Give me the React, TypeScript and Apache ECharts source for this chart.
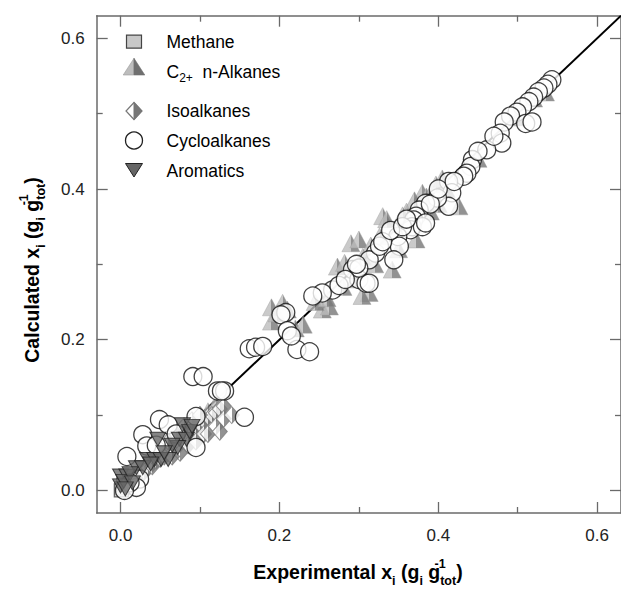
import React, { useEffect, useRef } from "react";
import * as echarts from "echarts";

const majorTicks = [0, 0.2, 0.4, 0.6];
const minorTicks = [0.1, 0.3, 0.5];
const axisMin = -0.03;
const axisMax = 0.63;

const identityLine: [number, number][] = [[0, 0], [0.63, 0.63]];

const methane: [number, number][] = [[0.002, 0.003], [0.004, 0.008], [0.001, 0.0]];

const nAlkanes: [number, number][] = [
  [0.19, 0.243], [0.204, 0.249], [0.19, 0.224], [0.197, 0.235], [0.21, 0.24], [0.22, 0.215], [0.23, 0.22],
  [0.254, 0.24], [0.263, 0.244], [0.245, 0.25], [0.273, 0.297], [0.282, 0.302], [0.29, 0.328], [0.3, 0.333],
  [0.305, 0.31], [0.313, 0.262], [0.304, 0.258], [0.326, 0.337], [0.33, 0.364], [0.335, 0.36], [0.342, 0.293],
  [0.35, 0.32], [0.372, 0.333], [0.38, 0.395], [0.385, 0.39], [0.397, 0.406], [0.405, 0.414], [0.426, 0.377],
  [0.36, 0.37], [0.37, 0.385], [0.355, 0.365], [0.32, 0.3], [0.28, 0.27], [0.26, 0.255], [0.295, 0.28],
  [0.315, 0.325], [0.1, 0.1], [0.11, 0.105], [0.09, 0.085], [0.12, 0.115], [0.08, 0.075], [0.52, 0.52],
  [0.535, 0.528], [0.5, 0.495], [0.45, 0.44], [0.41, 0.4], [0.39, 0.37], [0.4, 0.38],
];

const isoAlkanes: [number, number][] = [
  [0.02, 0.018], [0.03, 0.025], [0.035, 0.03], [0.04, 0.032], [0.045, 0.04], [0.05, 0.042], [0.055, 0.045],
  [0.06, 0.05], [0.065, 0.055], [0.07, 0.06], [0.075, 0.062], [0.08, 0.068], [0.085, 0.072], [0.09, 0.078],
  [0.095, 0.082], [0.1, 0.088], [0.105, 0.092], [0.11, 0.098], [0.115, 0.1], [0.12, 0.103], [0.125, 0.108],
  [0.13, 0.112], [0.07, 0.075], [0.08, 0.085], [0.09, 0.093], [0.1, 0.1], [0.06, 0.065], [0.085, 0.06],
  [0.095, 0.065], [0.105, 0.075], [0.075, 0.05], [0.065, 0.045], [0.11, 0.075], [0.12, 0.085],
  [0.13, 0.095], [0.14, 0.1], [0.125, 0.078],
];

const cycloAlkanes: [number, number][] = [
  [0.543, 0.545], [0.538, 0.539], [0.533, 0.534], [0.526, 0.529], [0.52, 0.522], [0.514, 0.516],
  [0.506, 0.509], [0.499, 0.502], [0.491, 0.497], [0.483, 0.489], [0.51, 0.487], [0.518, 0.489],
  [0.478, 0.474], [0.48, 0.461], [0.461, 0.452], [0.443, 0.439], [0.441, 0.43], [0.436, 0.421],
  [0.432, 0.417], [0.413, 0.41], [0.417, 0.395], [0.413, 0.377], [0.399, 0.388], [0.384, 0.381],
  [0.376, 0.372], [0.372, 0.364], [0.369, 0.359], [0.367, 0.35], [0.365, 0.346], [0.38, 0.35],
  [0.384, 0.355], [0.349, 0.337], [0.351, 0.324], [0.344, 0.306], [0.321, 0.315], [0.313, 0.306],
  [0.326, 0.324], [0.292, 0.293], [0.3, 0.28], [0.309, 0.275], [0.313, 0.275], [0.267, 0.266],
  [0.254, 0.262], [0.242, 0.258], [0.208, 0.236], [0.202, 0.233], [0.222, 0.187], [0.238, 0.184],
  [0.21, 0.212], [0.215, 0.205], [0.162, 0.188], [0.17, 0.19], [0.179, 0.191], [0.156, 0.097],
  [0.122, 0.132], [0.131, 0.132], [0.127, 0.132], [0.091, 0.151], [0.104, 0.151], [0.095, 0.098],
  [0.049, 0.094], [0.06, 0.087], [0.028, 0.074], [0.033, 0.059], [0.008, 0.045], [0.095, 0.057],
  [0.024, 0.015], [0.02, 0.004], [0.012, 0.01], [0.005, 0.0], [0.045, 0.06], [0.07, 0.075],
  [0.3, 0.295], [0.275, 0.272], [0.283, 0.28], [0.33, 0.33], [0.34, 0.345], [0.355, 0.35],
  [0.36, 0.36], [0.39, 0.38], [0.4, 0.4], [0.42, 0.41], [0.45, 0.45], [0.47, 0.47], [0.297, 0.3],
];

const aromatics: [number, number][] = [
  [0.047, 0.068], [0.074, 0.068], [0.083, 0.068], [0.072, 0.057], [0.034, 0.041], [0.043, 0.041],
  [0.051, 0.041], [0.06, 0.041], [0.02, 0.03], [0.028, 0.03], [0.0, 0.019], [0.008, 0.019],
  [0.0, 0.006], [0.004, 0.012], [0.078, 0.087], [0.087, 0.078], [0.065, 0.06], [0.012, 0.022],
  [0.015, 0.01], [0.006, 0.002], [0.055, 0.05], [0.038, 0.035], [0.09, 0.085],
];

const FONT = "'Liberation Sans', Arial, Helvetica, sans-serif";
const AXIS_COLOR = "#6a6a6a";

function split(c1: string, c2: string) {
  return new echarts.graphic.LinearGradient(0, 0, 1, 0, [
    { offset: 0, color: c1 },
    { offset: 0.5, color: c1 },
    { offset: 0.5, color: c2 },
    { offset: 1, color: c2 },
  ]);
}

function makeAxis(kind: "x" | "y", position: string, values: number[], len: number, labels: boolean, line: boolean): any {
  return {
    type: "value",
    position,
    min: axisMin,
    max: axisMax,
    gridIndex: 0,
    splitLine: { show: false },
    axisLine: { show: line, onZero: false, lineStyle: { color: AXIS_COLOR, width: 1.5 } },
    axisTick: {
      show: true,
      inside: true,
      length: len,
      customValues: values,
      lineStyle: { color: AXIS_COLOR, width: 1.3 },
    },
    axisLabel: {
      show: labels,
      customValues: values,
      formatter: (v: number) => v.toFixed(1),
      color: "#222",
      fontSize: 17,
      fontFamily: FONT,
      margin: kind === "x" ? 14 : 12,
    },
  };
}

const titleRich = {
  b: { fontSize: 19.5, fontWeight: "bold", fontFamily: FONT, color: "#111", lineHeight: 30, verticalAlign: "middle" },
  s: { fontSize: 12.5, fontWeight: "bold", fontFamily: FONT, color: "#111", lineHeight: 12, verticalAlign: "bottom" },
  u: { fontSize: 12.5, fontWeight: "bold", fontFamily: FONT, color: "#111", lineHeight: 15, verticalAlign: "top", width: 0 },
};

const legendRich = {
  t: { fontSize: 17.5, fontFamily: FONT, color: "#333", lineHeight: 24, verticalAlign: "middle" },
  s: { fontSize: 12, fontFamily: FONT, color: "#333", lineHeight: 10, verticalAlign: "bottom" },
};

export default function App() {
  const ref = useRef<HTMLDivElement>(null);
  useEffect(() => {
    if (!ref.current) return;
    const chart = echarts.init(ref.current, undefined, { renderer: "svg" });
    const legendX = 134;
    const textX = 166.5;
    const option: any = {
      animation: false,
      backgroundColor: "#fff",
      grid: { left: 96.7, top: 15.7, right: -1.5, bottom: 76, containLabel: false },
      xAxis: [
        makeAxis("x", "bottom", majorTicks, 11, true, true),
        makeAxis("x", "bottom", minorTicks, 6, false, false),
        makeAxis("x", "top", majorTicks, 11, false, true),
        makeAxis("x", "top", minorTicks, 6, false, false),
      ],
      yAxis: [
        makeAxis("y", "left", majorTicks, 11, true, true),
        makeAxis("y", "left", minorTicks, 6, false, false),
        makeAxis("y", "right", majorTicks, 11, false, true),
        makeAxis("y", "right", minorTicks, 6, false, false),
      ],
      series: [
        {
          type: "line",
          data: identityLine,
          showSymbol: false,
          symbol: "none",
          lineStyle: { color: "#000", width: 2 },
          z: 1,
        },
        {
          name: "Methane",
          type: "scatter",
          data: methane,
          symbol: "rect",
          symbolSize: [14, 13],
          itemStyle: { color: "#c8c8c8", borderColor: "#444", borderWidth: 1.2 },
          z: 1.5,
        },
        {
          name: "C2+ n-Alkanes",
          type: "scatter",
          data: nAlkanes,
          symbol: "triangle",
          symbolSize: [18, 17],
          itemStyle: { color: split("#bdbdbd", "#777777"), borderColor: "#9a9a9a", borderWidth: 0.5 },
          z: 2,
        },
        {
          name: "Isoalkanes",
          type: "scatter",
          data: isoAlkanes,
          symbol: "diamond",
          symbolSize: [15, 17],
          itemStyle: { color: split("#ffffff", "#777777"), borderColor: "#7a7a7a", borderWidth: 1 },
          z: 3,
        },
        {
          name: "Cycloalkanes",
          type: "scatter",
          data: cycloAlkanes,
          symbol: "circle",
          symbolSize: 18,
          itemStyle: { color: "#ffffff", borderColor: "#111", borderWidth: 1.3 },
          z: 4,
        },
        {
          name: "Aromatics",
          type: "scatter",
          data: aromatics,
          symbol: "path://M0,0 L10,0 L5,9 Z",
          symbolSize: [16, 14],
          itemStyle: { color: "#666666", borderColor: "#222", borderWidth: 1 },
          z: 5,
        },
      ],
      graphic: [
        { type: "rect", shape: { x: legendX - 7.5, y: 35.2, width: 15, height: 13 }, style: { fill: "#c8c8c8", stroke: "#444", lineWidth: 1.2 }, z: 100 },
        { type: "polygon", shape: { points: [[legendX, 58.3], [legendX - 10.8, 75], [legendX, 75]] }, style: { fill: "#bdbdbd", stroke: "#9a9a9a", lineWidth: 0.6 }, z: 100 },
        { type: "polygon", shape: { points: [[legendX, 58.3], [legendX, 75], [legendX + 10.8, 75]] }, style: { fill: "#6f6f6f", stroke: "#6f6f6f", lineWidth: 0.6 }, z: 100 },
        { type: "polygon", shape: { points: [[legendX, 102.5], [legendX - 8, 111], [legendX, 119.5], [legendX + 8, 111]] }, style: { fill: "#fff", stroke: "#777", lineWidth: 1.2 }, z: 100 },
        { type: "polygon", shape: { points: [[legendX, 102.5], [legendX, 119.5], [legendX + 8, 111]] }, style: { fill: "#777", stroke: "#777", lineWidth: 1 }, z: 100 },
        { type: "circle", shape: { cx: legendX, cy: 140.5, r: 8.5 }, style: { fill: "#fff", stroke: "#222", lineWidth: 1.3 }, z: 100 },
        { type: "polygon", shape: { points: [[legendX - 8.5, 163.5], [legendX + 8.5, 163.5], [legendX, 177]] }, style: { fill: "#666", stroke: "#222", lineWidth: 1 }, z: 100 },
        { type: "text", x: textX, y: 41.7, style: { text: "{t|Methane}", rich: legendRich, verticalAlign: "middle", align: "left" }, z: 100 },
        { type: "text", x: textX, y: 71.7, style: { text: "{t|C}{s|2+}{t|  n-Alkanes}", rich: legendRich, verticalAlign: "middle", align: "left" }, z: 100 },
        { type: "text", x: textX, y: 110.5, style: { text: "{t|Isoalkanes}", rich: legendRich, verticalAlign: "middle", align: "left" }, z: 100 },
        { type: "text", x: textX, y: 140.5, style: { text: "{t|Cycloalkanes}", rich: legendRich, verticalAlign: "middle", align: "left" }, z: 100 },
        { type: "text", x: textX, y: 170.5, style: { text: "{t|Aromatics}", rich: legendRich, verticalAlign: "middle", align: "left" }, z: 100 },
        {
          type: "text",
          x: 358,
          y: 572,
          style: {
            text: "{b|Experimental x}{s|i}{b| (g}{s|i}{b| g}{u|-1}{s|tot}{b|)}",
            rich: titleRich,
            align: "center",
            verticalAlign: "middle",
          },
          z: 100,
        },
        {
          type: "text",
          x: 32,
          y: 270,
          rotation: Math.PI / 2,
          style: {
            text: "{b|Calculated x}{s|i}{b| (g}{s|i}{b| g}{u|-1}{s|tot}{b|)}",
            rich: titleRich,
            align: "center",
            verticalAlign: "middle",
          },
          z: 100,
        },
      ],
    };
    chart.setOption(option);
    return () => chart.dispose();
  }, []);
  return <div ref={ref} style={{ position: "absolute", left: 0, top: 0, width: 621, height: 589 }} />;
}
